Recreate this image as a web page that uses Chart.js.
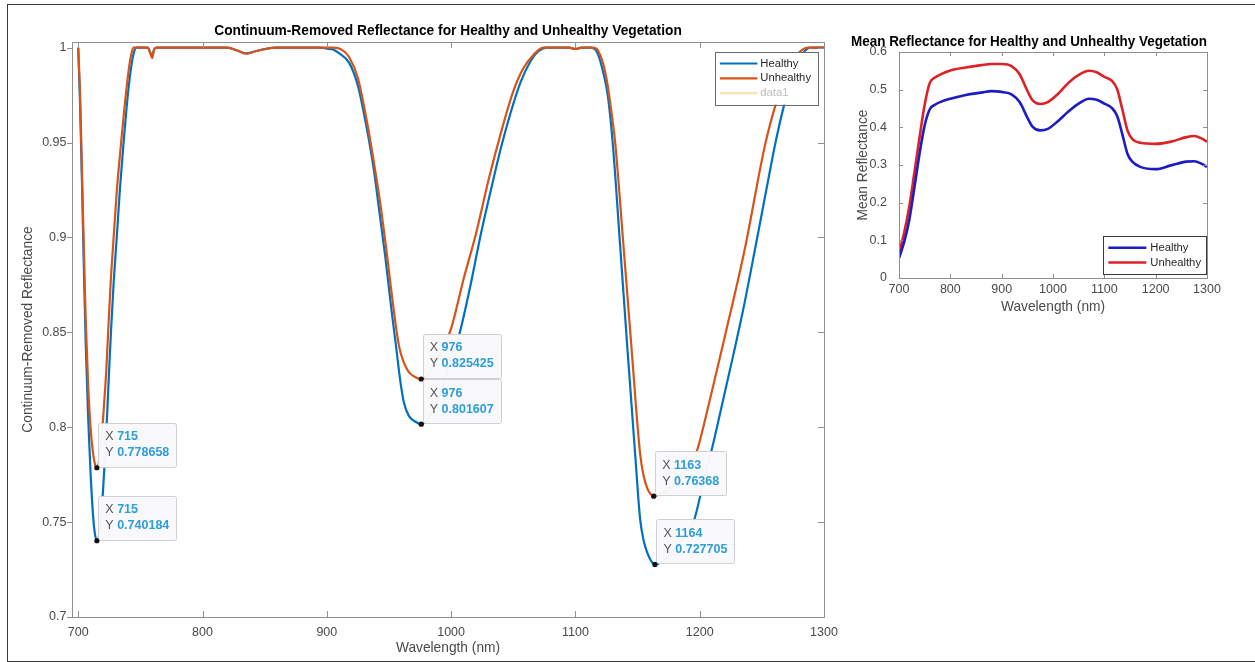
<!DOCTYPE html>
<html>
<head>
<meta charset="utf-8">
<script src="https://cdn.jsdelivr.net/npm/chart.js@4.4.1/dist/chart.umd.min.js"></script>
<style>
  html, body { margin: 0; padding: 0; background: #fff; }
  body { width: 1255px; height: 662px; position: relative; overflow: hidden; }
  #frame { position: absolute; left: 7px; top: 4px; width: 1270px; height: 658px; border: 1px solid #3a3a3a; box-sizing: border-box; }
  #crChart { position: absolute; left: 0; top: 0; }
  #meanChart { position: absolute; left: 851px; top: 0; }
</style>
</head>
<body>
<div id="frame"></div>
<canvas id="crChart" width="840" height="662"></canvas>
<canvas id="meanChart" width="404" height="330"></canvas>
<script>
// Continuum-removed reflectance (left plot)
const crHealthyWl = [700, 701.5, 703, 704.5, 706, 708, 710, 712, 713.5, 715, 716.5, 718, 720, 722, 723.5, 725, 726.5, 728.5, 731, 733.5, 736.5, 739, 742, 745, 747,
  756, 758, 759.5, 761, 763, 820, 828, 835, 842, 850, 860, 895, 900, 905, 910, 918, 925, 932, 938, 942, 947, 952, 956, 959, 962, 966, 971, 976,
  980, 985, 990, 995, 1000, 1007, 1015, 1024, 1032, 1040, 1048, 1056, 1064, 1070, 1077, 1095, 1100, 1105, 1112, 1116, 1119, 1122, 1126, 1130,
  1136, 1142, 1148, 1152, 1155, 1158, 1161, 1164, 1170, 1177, 1185, 1195, 1203, 1210, 1218, 1227, 1235, 1245, 1253, 1261, 1268, 1275, 1282, 1289, 1300];
const crHealthy = [1.0, 0.97, 0.93, 0.885, 0.845, 0.805, 0.775, 0.753, 0.7435, 0.740184, 0.742, 0.75, 0.767, 0.79, 0.81, 0.832, 0.852, 0.876, 0.9, 0.925, 0.95, 0.969, 0.987, 0.998, 1.0,
  1.0, 0.9975, 0.9955, 0.999, 1.0, 1.0, 0.9985, 0.997, 0.998, 0.9993, 1.0, 1.0, 0.9995, 0.999, 0.997, 0.992, 0.98, 0.958, 0.935, 0.915, 0.89, 0.862, 0.841, 0.825, 0.813, 0.806, 0.803, 0.801607,
  0.803, 0.808, 0.816, 0.826, 0.836, 0.85, 0.873, 0.902, 0.925, 0.947, 0.966, 0.982, 0.993, 0.998, 1.0, 1.0, 0.9993, 1.0, 1.0, 0.999, 0.995, 0.988, 0.975, 0.95,
  0.8955, 0.84, 0.7864, 0.752, 0.74, 0.7335, 0.7295, 0.727705, 0.7293, 0.734, 0.74, 0.75, 0.771, 0.789, 0.812, 0.838, 0.862, 0.8955, 0.923, 0.95, 0.97, 0.986, 0.996, 1.0, 1.0];

const crUnhealthyWl = [700, 701.5, 703, 704.5, 706, 708, 710, 712, 713.5, 715, 716.5, 718, 719.5, 721, 722.5, 724, 726, 728.5, 731, 734.5, 737, 740, 742.5, 744.5,
  756, 758, 759.5, 761, 763, 820, 828, 835, 842, 850, 860, 905, 912, 918, 925, 932, 938, 943, 948, 953, 958, 962, 966, 971, 976,
  980, 985, 990, 995, 1000, 1010, 1020, 1030, 1040, 1050, 1058, 1066, 1074, 1095, 1100, 1105, 1113, 1117, 1120, 1123, 1126, 1129, 1132,
  1138.7, 1145, 1152, 1155, 1158, 1160.5, 1163, 1170, 1178, 1186, 1192, 1197, 1208, 1221, 1236, 1253, 1262, 1270, 1278, 1287, 1300];
const crUnhealthy = [1.0, 0.975, 0.935, 0.895, 0.857, 0.822, 0.799, 0.786, 0.7805, 0.778658, 0.781, 0.79, 0.8, 0.814, 0.829, 0.849, 0.875, 0.9, 0.924, 0.95, 0.967, 0.985, 0.996, 1.0,
  1.0, 0.997, 0.9945, 0.999, 1.0, 1.0, 0.9985, 0.9968, 0.998, 0.9992, 1.0, 1.0, 0.999, 0.995, 0.984, 0.962, 0.939, 0.918, 0.893, 0.866, 0.843, 0.834, 0.829, 0.8265, 0.825425,
  0.8265, 0.831, 0.837, 0.844, 0.852, 0.878, 0.902, 0.93, 0.955, 0.977, 0.989, 0.996, 1.0, 1.0, 0.9993, 1.0, 1.0, 0.9995, 0.996, 0.99, 0.98, 0.966, 0.95,
  0.8955, 0.843, 0.7864, 0.774, 0.7675, 0.7648, 0.76368, 0.7655, 0.769, 0.775, 0.78, 0.786, 0.814, 0.85, 0.893, 0.95, 0.972, 0.987, 0.996, 1.0, 1.0];

const crXTicks = [700, 800, 900, 1000, 1100, 1200, 1300];
const crYTicks = [0.7, 0.75, 0.8, 0.85, 0.9, 0.95, 1];

// data tips: which series (0 healthy, 1 unhealthy), x and y
const tipSeries = [1, 0, 1, 0, 1, 0];
const tipX = [715, 715, 976, 976, 1163, 1164];
const tipY = [0.778658, 0.740184, 0.825425, 0.801607, 0.76368, 0.727705];

// Mean reflectance (right plot)
const meanWl = [700, 710, 720, 730, 740, 750, 760, 770, 780, 800, 830, 860, 880, 900, 920, 935, 950, 960, 975, 990, 1010, 1030, 1050, 1070, 1085,
  1100, 1115, 1125, 1135, 1145, 1155, 1170, 1200, 1230, 1260, 1275, 1290, 1300];
const meanHealthy = [0.053, 0.095, 0.154, 0.24, 0.33, 0.405, 0.448, 0.46, 0.467, 0.476, 0.486, 0.492, 0.496, 0.494, 0.487, 0.467, 0.426, 0.402, 0.392, 0.396, 0.417, 0.442, 0.463, 0.476, 0.473,
  0.463, 0.451, 0.43, 0.382, 0.33, 0.308, 0.295, 0.289, 0.299, 0.309, 0.31, 0.303, 0.295];
const meanUnhealthy = [0.066, 0.12, 0.189, 0.28, 0.373, 0.46, 0.518, 0.532, 0.54, 0.551, 0.559, 0.565, 0.568, 0.568, 0.562, 0.541, 0.497, 0.472, 0.462, 0.467, 0.489, 0.518, 0.539, 0.55, 0.546,
  0.534, 0.523, 0.501, 0.448, 0.392, 0.368, 0.359, 0.356, 0.362, 0.374, 0.377, 0.37, 0.362];

const meanXTicks = [700, 800, 900, 1000, 1100, 1200, 1300];
const meanYTicks = [0, 0.1, 0.2, 0.3, 0.4, 0.5, 0.6];

const FONT = '"Liberation Sans", Arial, Helvetica, sans-serif';
const TEXT = '#4a4a4a';
Chart.defaults.font.family = FONT;

function toPoints(xs, ys) {
  return xs.map((x, i) => ({ x: x, y: ys[i] }));
}

// MATLAB style box with tick marks
const axesBox = {
  id: 'axesBox',
  afterDatasetsDraw(chart, args, o) {
    const { ctx, chartArea: a, scales: { x, y } } = chart;
    ctx.save();
    ctx.strokeStyle = o.color;
    ctx.lineWidth = 1;
    ctx.strokeRect(Math.round(a.left) + 0.5, Math.round(a.top) + 0.5, Math.round(a.right - a.left), Math.round(a.bottom - a.top));
    ctx.beginPath();
    x.ticks.forEach(t => {
      const px = Math.round(x.getPixelForValue(t.value)) + 0.5;
      ctx.moveTo(px, a.bottom); ctx.lineTo(px, a.bottom - o.len);
      ctx.moveTo(px, a.top); ctx.lineTo(px, a.top + o.len);
    });
    y.ticks.forEach(t => {
      const py = Math.round(y.getPixelForValue(t.value)) + 0.5;
      ctx.moveTo(a.left + o.leftLen, py); ctx.lineTo(a.left, py);
      ctx.moveTo(a.right, py); ctx.lineTo(a.right - o.len, py);
    });
    ctx.stroke();
    ctx.restore();
  }
};

// legend drawn inside the axes, like MATLAB
const boxLegend = {
  id: 'boxLegend',
  afterDatasetsDraw(chart, args, o) {
    const { ctx, chartArea: a } = chart;
    const sets = chart.data.datasets;
    ctx.save();
    ctx.font = o.size + 'px ' + FONT;
    const textW = Math.max(...sets.map(d => ctx.measureText(d.label).width));
    const w = o.textX + textW + o.padRight;
    const h = o.padTop * 2 + o.rowH * (sets.length - 1);
    const left = a.right - o.right - w;
    const top = o.bottom != null ? a.bottom - o.bottom - h : a.top + o.top;
    ctx.fillStyle = '#fff';
    ctx.fillRect(left, top, w, h);
    ctx.strokeStyle = o.border;
    ctx.lineWidth = 1;
    ctx.strokeRect(Math.round(left) + 0.5, Math.round(top) + 0.5, Math.round(w), Math.round(h));
    ctx.textBaseline = 'middle';
    sets.forEach((d, i) => {
      const yy = top + o.padTop + i * o.rowH;
      ctx.strokeStyle = d.borderColor;
      ctx.lineWidth = d.borderWidth;
      ctx.beginPath();
      ctx.moveTo(left + o.lineFrom, yy);
      ctx.lineTo(left + o.lineTo, yy);
      ctx.stroke();
      ctx.fillStyle = d.data.length ? '#262626' : '#bdbdbd';
      ctx.fillText(d.label, left + o.textX, yy);
    });
    ctx.restore();
  }
};

// data tips on the minima
const dataTips = {
  id: 'dataTips',
  afterDraw(chart) {
    const { ctx, scales: { x, y } } = chart;
    ctx.save();
    ctx.textBaseline = 'middle';
    tipX.forEach((wx, i) => {
      const px = x.getPixelForValue(wx);
      const py = y.getPixelForValue(tipY[i]);
      const xs = String(wx);
      const ys = String(tipY[i]);
      ctx.font = '12.5px ' + FONT;
      const wX = ctx.measureText('X ').width;
      const wY = ctx.measureText('Y ').width;
      ctx.font = 'bold 12.5px ' + FONT;
      const w = Math.max(wX + ctx.measureText(xs).width, wY + ctx.measureText(ys).width) + 14;
      const h = 44;
      const left = px + 1.5;
      const top = py - 1 - h;
      ctx.fillStyle = 'rgba(249,249,251,0.97)';
      ctx.strokeStyle = '#cfcfd4';
      ctx.lineWidth = 1;
      ctx.beginPath();
      ctx.roundRect(Math.round(left) + 0.5, Math.round(top) + 0.5, Math.round(w), h, 2);
      ctx.fill();
      ctx.stroke();
      ctx.font = '12.5px ' + FONT;
      ctx.fillStyle = '#555';
      ctx.fillText('X', left + 7, top + 14);
      ctx.fillText('Y', left + 7, top + 30);
      ctx.font = 'bold 12.5px ' + FONT;
      ctx.fillStyle = '#2c9ed8';
      ctx.fillText(xs, left + 7 + wX, top + 14);
      ctx.fillText(ys, left + 7 + wY, top + 30);
      ctx.fillStyle = '#111';
      ctx.beginPath();
      ctx.arc(px, py, 2.6, 0, Math.PI * 2);
      ctx.fill();
    });
    ctx.restore();
  }
};

function linearAxis(min, max, tickValues, opts) {
  return {
    type: 'linear', min: min, max: max,
    afterBuildTicks: s => { s.ticks = tickValues.map(v => ({ value: v })); },
    afterFit: s => {
      if (s.isHorizontal()) { s.height = opts.size; s.paddingLeft = 0; s.paddingRight = 0; }
      else { s.width = opts.size; s.paddingTop = 0; s.paddingBottom = 0; }
    },
    grid: { display: false, drawTicks: false },
    border: { display: false },
    ticks: { padding: opts.tickPad, color: TEXT, font: { size: 12.5 }, autoSkip: false, maxRotation: 0, callback: v => String(v) },
    title: { display: true, text: opts.title, color: TEXT, font: { size: 13.75 }, padding: opts.titlePad }
  };
}

new Chart(document.getElementById('crChart'), {
  type: 'line',
  data: {
    datasets: [
      { label: 'Healthy', data: toPoints(crHealthyWl, crHealthy), borderColor: '#0072BD', borderWidth: 2.2, order: 2 },
      { label: 'Unhealthy', data: toPoints(crUnhealthyWl, crUnhealthy), borderColor: '#D95319', borderWidth: 2.2, order: 1 },
      { label: 'data1', data: [], borderColor: 'rgba(237,177,32,0.35)', borderWidth: 2.2, order: 3 }
    ]
  },
  options: {
    responsive: false,
    animation: false,
    events: [],
    layout: { padding: { left: 0, right: 16, top: 0, bottom: 0 } },
    elements: { point: { radius: 0 }, line: { cubicInterpolationMode: 'monotone' } },
    scales: {
      x: linearAxis(695, 1300, crXTicks, { size: 45, tickPad: 7.8, title: 'Wavelength (nm)', titlePad: { top: 0, bottom: 5.5 } }),
      y: linearAxis(0.7, 1.003, crYTicks, { size: 72, tickPad: 5.5, title: 'Continuum-Removed Reflectance', titlePad: { top: 20, bottom: 0 } })
    },
    plugins: {
      legend: { display: false },
      tooltip: { enabled: false },
      title: {
        display: true, fullSize: false, color: '#000',
        text: 'Continuum-Removed Reflectance for Healthy and Unhealthy Vegetation',
        font: { size: 13.75, weight: 'bold', lineHeight: 1 },
        padding: { top: 24, bottom: 4.25 }
      },
      axesBox: { color: '#8f8f8f', len: 6, leftLen: -5 },
      boxLegend: { size: 11.25, top: 10, right: 6, padTop: 11.5, rowH: 14.8, lineFrom: 4.5, lineTo: 42, textX: 45, padRight: 7, border: '#6a6a6a' }
    }
  },
  plugins: [axesBox, boxLegend, dataTips]
});

// canvas is centred on the plot area so the full width title sits over it
new Chart(document.getElementById('meanChart'), {
  type: 'line',
  data: {
    datasets: [
      { label: 'Healthy', data: toPoints(meanWl, meanHealthy), borderColor: '#1c1cc4', borderWidth: 2.6 },
      { label: 'Unhealthy', data: toPoints(meanWl, meanUnhealthy), borderColor: '#dd2226', borderWidth: 2.6 }
    ]
  },
  options: {
    responsive: false,
    animation: false,
    events: [],
    layout: { padding: { left: 0, right: 48, top: 0, bottom: 0 } },
    elements: { point: { radius: 0 }, line: { cubicInterpolationMode: 'monotone' } },
    scales: {
      x: linearAxis(700, 1300, meanXTicks, { size: 52, tickPad: 4.5, title: 'Wavelength (nm)', titlePad: { top: 0, bottom: 14.5 } }),
      y: linearAxis(0, 0.6, meanYTicks, { size: 48, tickPad: 12, title: 'Mean Reflectance', titlePad: { top: 4, bottom: 0 } })
    },
    plugins: {
      legend: { display: false },
      tooltip: { enabled: false },
      title: {
        display: true, color: '#000',
        text: 'Mean Reflectance for Healthy and Unhealthy Vegetation',
        font: { size: 13.75, weight: 'bold', lineHeight: 0.9 },
        padding: { top: 36.3, bottom: 3.3 }
      },
      axesBox: { color: '#8f8f8f', len: 4, leftLen: 4 },
      boxLegend: { size: 11.25, bottom: 4, right: 1, padTop: 11.5, rowH: 14.8, lineFrom: 5, lineTo: 43, textX: 47, padRight: 5, border: '#3a3a3a' }
    }
  },
  plugins: [axesBox, boxLegend]
});
</script>
</body>
</html>
